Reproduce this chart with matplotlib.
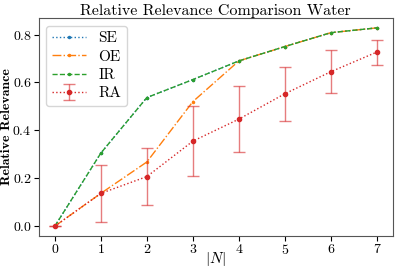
import matplotlib
matplotlib.use("Agg")
import matplotlib.pyplot as plt
import numpy as np

plt.rcParams['font.family'] = 'serif'
plt.rcParams['font.serif'] = ['cmr10', 'DejaVu Serif']
plt.rcParams['mathtext.fontset'] = 'cm'
plt.rcParams['axes.formatter.use_mathtext'] = True

n = [0, 1, 2, 3, 4, 5, 6, 7]
se = [0.0, 0.305, 0.537, 0.612, 0.690, 0.750, 0.808, 0.828]
oe = [0.0, 0.137, 0.268, 0.520, 0.690, 0.750, 0.808, 0.828]
ir = [0.0, 0.305, 0.537, 0.612, 0.690, 0.750, 0.808, 0.828]
ra = [0.0, 0.137, 0.207, 0.355, 0.447, 0.553, 0.645, 0.727]
ra_err = [0.0, 0.118, 0.118, 0.145, 0.137, 0.112, 0.090, 0.052]

fig = plt.figure(figsize=(3.99, 2.72), dpi=100)
ax = fig.add_axes([0.097, 0.132, 0.888, 0.802])

ax.plot(n, se, ':', marker='.', color='tab:blue', lw=1, ms=3, label='SE')
ax.plot(n, oe, '-.', marker='.', color='tab:orange', lw=1, ms=3, label='OE')
ax.plot(n, ir, '--', marker='.', color='tab:green', lw=1, ms=3, label='IR')
eb = ax.errorbar(n, ra, yerr=ra_err, fmt=':', marker='o', color='tab:red',
                 lw=1, ms=3, capsize=4, elinewidth=1, ecolor=(0.84, 0.15, 0.16, 0.6),
                 label='RA')

ax.set_title('Relative Relevance Comparison Water', fontsize=11.5, pad=2)
ax.set_xlabel('$|N|$', fontsize=11)
ax.set_ylabel('Relative Relevance', fontsize=10, family=['cmb10', 'DejaVu Serif'])
ax.xaxis.set_label_coords(0.5, -0.065)
ax.yaxis.set_label_coords(-0.073, 0.5)
ax.set_xticks(n)
ax.set_yticks([0.0, 0.2, 0.4, 0.6, 0.8])
ax.tick_params(labelsize=10, pad=1.5)
for s in ax.spines.values():
    s.set_color('#555555')
ax.legend(loc='upper left', fontsize=11, handlelength=2.2, borderpad=0.4,
          labelspacing=0.3)

fig.savefig('out.png', dpi=100)
